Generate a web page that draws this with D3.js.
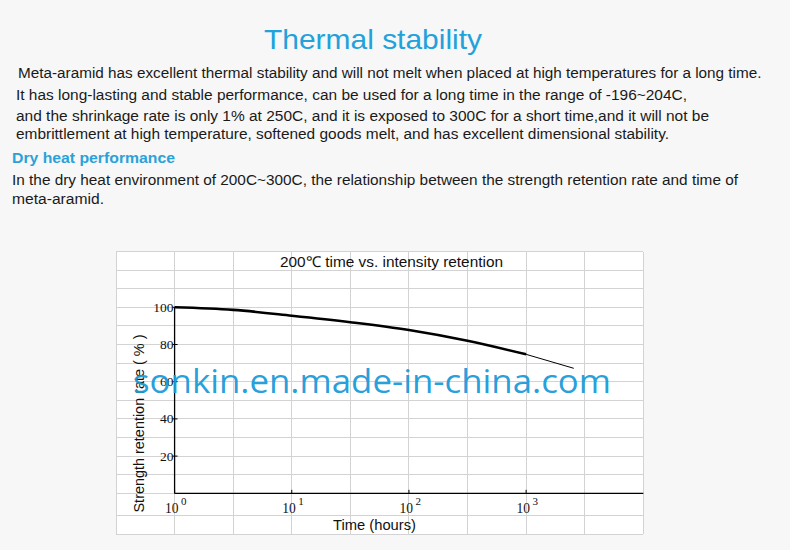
<!DOCTYPE html>
<html>
<head>
<meta charset="utf-8">
<script src="https://cdn.jsdelivr.net/npm/d3@7"></script>
<style>
  html, body { margin: 0; padding: 0; background: #f7f7f7; }
  svg { display: block; }
</style>
</head>
<body>
<svg id="chart" width="790" height="550"></svg>
<script>
// ---- data ----
const pageTitle = "Thermal stability";
const paragraphLines = [
  "Meta-aramid has excellent thermal stability and will not melt when placed at high temperatures for a long time.",
  "It has long-lasting and stable performance, can be used for a long time in the range of -196~204C,",
  "and the shrinkage rate is only 1% at 250C, and it is exposed to 300C for a short time,and it will not be",
  "embrittlement at high temperature, softened goods melt, and has excellent dimensional stability."
];
const sectionHeading = "Dry heat performance";
const sectionLines = [
  "In the dry heat environment of 200C~300C, the relationship between the strength retention rate and time of",
  "meta-aramid."
];
const chartTitle = "200\u2103 time vs. intensity retention";
const xLabel = "Time (hours)";
const yLabel = "Strength retention rate ( % )";
const watermark = "sonkin.en.made-in-china.com";

const timeHours = [1, 3.16, 10, 31.6, 100, 316, 1000, 2550];
const retention = [100, 98.6, 95.5, 92, 87.8, 82, 74.7, 67.2];
const thickCount = 7; // first points drawn with heavy stroke

const yTickValues = [20, 40, 60, 80, 100];
const xTickExponents = [0, 1, 2, 3];
const xGridExponents = [-0.5, 0, 0.5, 1, 1.5, 2, 2.5, 3, 3.5, 4];
const yGridValues = [130, 120, 110, 100, 90, 80, 70, 60, 50, 40, 30, 20, 10, 0, -12.2, -22];

// ---- drawing ----
const svg = d3.select("#chart");

// header texts
svg.append("text").attr("x", 373).attr("y", 48.5)
  .attr("text-anchor", "middle")
  .attr("font-family", "Liberation Sans, Arial, sans-serif")
  .attr("font-size", 28.5).attr("fill", "#22a1db")
  .attr("textLength", 218).attr("lengthAdjust", "spacingAndGlyphs")
  .text(pageTitle);

const paraX = [18, 16, 16, 16];
const paraY = [78.3, 99.5, 121, 138.5];
const paraW = [743.5, 671, 693, 653];
paragraphLines.forEach((t, i) => {
  svg.append("text").attr("x", paraX[i]).attr("y", paraY[i])
    .attr("font-family", "Liberation Sans, Arial, sans-serif")
    .attr("font-size", 15.5).attr("fill", "#1a1a1a")
    .attr("textLength", paraW[i]).attr("lengthAdjust", "spacingAndGlyphs")
    .text(t);
});

svg.append("text").attr("x", 12).attr("y", 162.5)
  .attr("font-family", "Liberation Sans, Arial, sans-serif")
  .attr("font-size", 15.5).attr("font-weight", "bold").attr("fill", "#2aa2d9")
  .attr("textLength", 163).attr("lengthAdjust", "spacingAndGlyphs")
  .text(sectionHeading);

const secY = [184.5, 203.5];
const secW = [726, 92];
sectionLines.forEach((t, i) => {
  svg.append("text").attr("x", 12).attr("y", secY[i])
    .attr("font-family", "Liberation Sans, Arial, sans-serif")
    .attr("font-size", 15.5).attr("fill", "#1a1a1a")
    .attr("textLength", secW[i]).attr("lengthAdjust", "spacingAndGlyphs")
    .text(t);
});

// chart scales
const x = d3.scaleLog().domain([Math.pow(10, -0.5), 1e4]).range([116, 643.3]);
const y = d3.scaleLinear().domain([0, 100]).range([493.3, 307.3]);

// background panel
svg.append("rect")
  .attr("x", x(Math.pow(10, -0.5))).attr("y", y(130))
  .attr("width", x(1e4) - x(Math.pow(10, -0.5)))
  .attr("height", y(-22) - y(130))
  .attr("fill", "#ffffff");

const grid = svg.append("g").attr("stroke", "#d3d3d3").attr("stroke-width", 1)
  .attr("shape-rendering", "crispEdges");
grid.selectAll("line.v").data(xGridExponents).join("line").attr("class", "v")
  .attr("x1", d => x(Math.pow(10, d))).attr("x2", d => x(Math.pow(10, d)))
  .attr("y1", y(130)).attr("y2", y(-22));
grid.selectAll("line.h").data(yGridValues).join("line").attr("class", "h")
  .attr("x1", x(Math.pow(10, -0.5))).attr("x2", x(1e4))
  .attr("y1", d => y(d)).attr("y2", d => y(d));

// chart title
svg.append("text").attr("x", 391.5).attr("y", 266.7)
  .attr("text-anchor", "middle")
  .attr("font-family", "Liberation Sans, Arial, sans-serif")
  .attr("font-size", 15).attr("fill", "#111")
  .attr("textLength", 223).attr("lengthAdjust", "spacingAndGlyphs")
  .text(chartTitle);

// axes lines
const axes = svg.append("g").attr("stroke", "#000").attr("stroke-width", 1.3);
axes.append("line")
  .attr("x1", x(1)).attr("x2", x(1)).attr("y1", y(100)).attr("y2", y(0));
axes.append("line")
  .attr("x1", x(1)).attr("x2", x(1e4)).attr("y1", y(0)).attr("y2", y(0));

// y ticks
const yAxis = svg.append("g");
yAxis.selectAll("line").data(yTickValues).join("line")
  .attr("x1", x(1) - 2).attr("x2", x(1) + 3)
  .attr("y1", d => y(d)).attr("y2", d => y(d))
  .attr("stroke", "#000").attr("stroke-width", 1);
yAxis.selectAll("text").data(yTickValues).join("text")
  .attr("x", x(1) - 1).attr("y", d => y(d) + 4.5)
  .attr("text-anchor", "end")
  .attr("font-family", "Liberation Serif, Times New Roman, serif")
  .attr("font-size", 13.5).attr("fill", "#111")
  .text(d => d);

// x ticks
const xAxis = svg.append("g");
xAxis.selectAll("line").data(xTickExponents).join("line")
  .attr("x1", d => x(Math.pow(10, d))).attr("x2", d => x(Math.pow(10, d)))
  .attr("y1", y(0)).attr("y2", y(0) - 3.5)
  .attr("stroke", "#000").attr("stroke-width", 1);
const xt = xAxis.selectAll("text").data(xTickExponents).join("text")
  .attr("x", d => x(Math.pow(10, d)) - 9.5).attr("y", 513)
  .attr("font-family", "Liberation Serif, Times New Roman, serif")
  .attr("font-size", 15).attr("fill", "#111");
xt.append("tspan").attr("textLength", 13.5).attr("lengthAdjust", "spacingAndGlyphs").text("10");
xt.append("tspan").attr("dx", 2.5).attr("dy", -8.5).attr("font-size", 11).text(d => d);

// axis labels
svg.append("text").attr("x", 374.5).attr("y", 529.5)
  .attr("text-anchor", "middle")
  .attr("font-family", "Liberation Sans, Arial, sans-serif")
  .attr("font-size", 14).attr("fill", "#111")
  .attr("textLength", 83).attr("lengthAdjust", "spacingAndGlyphs")
  .text(xLabel);

svg.append("text")
  .attr("transform", "translate(143.5,423.5) rotate(-90)")
  .attr("text-anchor", "middle")
  .attr("font-family", "Liberation Sans, Arial, sans-serif")
  .attr("font-size", 14).attr("fill", "#111")
  .attr("textLength", 178).attr("lengthAdjust", "spacingAndGlyphs")
  .text(yLabel);

// curve
const pts = timeHours.map((t, i) => [t, retention[i]]);
const line = d3.line().x(d => x(d[0])).y(d => y(d[1])).curve(d3.curveMonotoneX);
svg.append("path").datum(pts.slice(0, thickCount))
  .attr("d", line).attr("fill", "none")
  .attr("stroke", "#000").attr("stroke-width", 2.6);
svg.append("path").datum(pts.slice(thickCount - 1))
  .attr("d", line).attr("fill", "none")
  .attr("stroke", "#000").attr("stroke-width", 1);

// watermark
svg.append("text").attr("x", 133).attr("y", 393)
  .attr("font-family", "Open Sans, Noto Sans, sans-serif")
  .attr("font-size", 32).attr("fill", "#1a9ad8").attr("fill-opacity", 0.95)
  .attr("textLength", 478).attr("lengthAdjust", "spacingAndGlyphs")
  .text(watermark);
</script>
</body>
</html>
